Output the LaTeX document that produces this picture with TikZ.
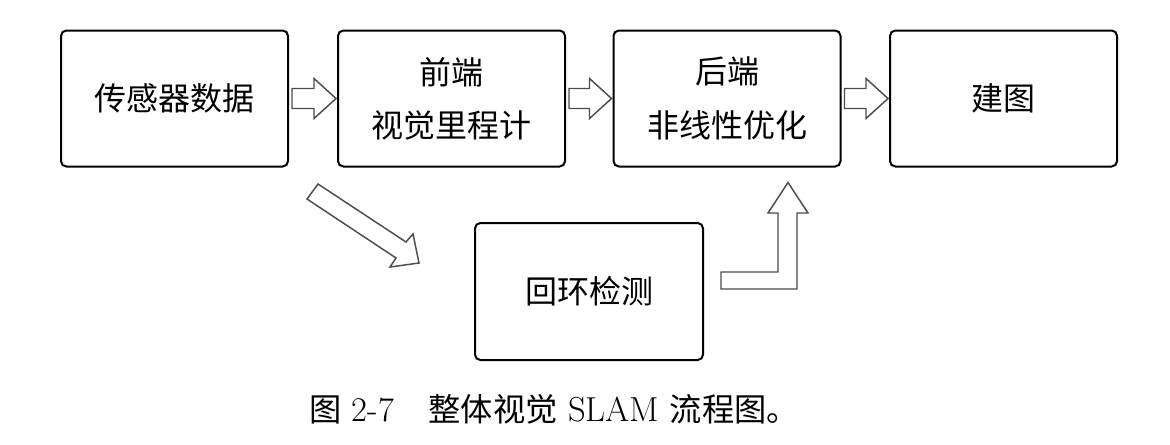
\documentclass[tikz,border=0pt]{standalone}
\usepackage{fontspec}
\newfontfamily\cjk{Noto Sans CJK SC}
\usetikzlibrary{calc}
\tikzset{
  box/.style={draw=black, line width=1.5pt, rounded corners=4pt, minimum width=170.25pt, minimum height=102pt, inner sep=0pt,
    font=\cjk\fontsize{24}{40}\selectfont, align=center},
  blk/.style={draw=black!70, line width=1.1pt, fill=white, line join=miter},
  captext/.style={font=\fontsize{26}{30}\selectfont, inner sep=0pt},
  capcjk/.style={}
}
\newcommand{\capc}{\cjk\fontsize{24.2}{30}\selectfont}
\newcommand{\hblock}[2]{\draw[blk] ($(#1.east)+(3,-10)$) -- ($(#2.west)+(-23,-10)$) -- ($(#2.west)+(-23,-20)$) -- ($(#2.west)+(-1,0)$) -- ($(#2.west)+(-23,20)$) -- ($(#2.west)+(-23,10)$) -- ($(#1.east)+(3,10)$) -- cycle;}
\begin{document}
\begin{tikzpicture}[x=0.75pt,y=-0.75pt]
\useasboundingbox (0,0) rectangle (1170,444);
\node[box] (b1) at (174.5,98.5) {传感器数据};
\node[box] (b2) at (451.5,98.5) {前端\\视觉里程计};
\node[box] (b3) at (727,98.5) {后端\\非线性优化};
\node[box] (b4) at (1003.5,98.5) {建图};
\node[box, minimum width=171pt, minimum height=102.75pt] (lp) at (589,291.5) {回环检测};
\hblock{b1}{b2}
\hblock{b2}{b3}
\hblock{b3}{b4}
% diagonal block arrow toward loop detection
\draw[blk] (307,199) -- (318,184) -- (406,242) -- (413,234) -- (419,263) -- (390,267) -- (396,258) -- cycle;
% L-shaped block arrow from loop detection up to back end
\draw[blk] ($(lp.east)+(17,-19.5)$) -- (778,272) -- (778,213) -- (768,213) -- ($(b3.south)+(61,15)$) -- (808,213) -- (797,213) -- (797,289) -- ($(lp.east)+(17,-2.5)$) -- cycle;
\node[captext] (caption) at (554,409) {{\capc 图} 2-7\hspace{1em}{\capc 整体视觉} SLAM {\capc 流程图。}};
\end{tikzpicture}
\end{document}
